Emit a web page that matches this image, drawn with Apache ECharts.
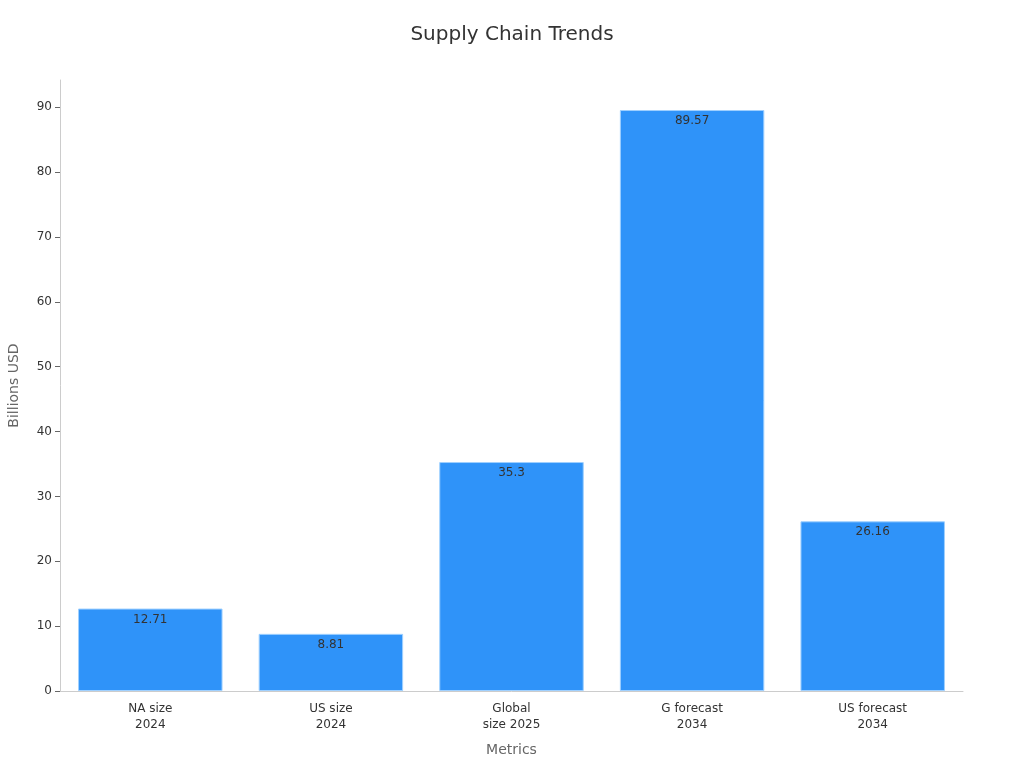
<!DOCTYPE html>
<html>
<head>
<meta charset="utf-8">
<script src="https://cdn.jsdelivr.net/npm/echarts@6/dist/echarts.min.js"></script>
<style>html,body{margin:0;padding:0;background:#fff}#chart{width:1024px;height:768px}</style>
</head>
<body>
<div id="chart"></div>
<script>
const categories = ['NA size\n2024', 'US size\n2024', 'Global\nsize 2025', 'G forecast\n2034', 'US forecast\n2034'];
const values = [12.71, 8.81, 35.3, 89.57, 26.16];
const yTicks = [0, 10, 20, 30, 40, 50, 60, 70, 80, 90];
const yMax = 94.2;

const chart = echarts.init(document.getElementById('chart'), null, {renderer: 'canvas'});
const font = 'DejaVu Sans';
chart.setOption({
  animation: false,
  textStyle: {fontFamily: font},
  title: {
    text: 'Supply Chain Trends', left: 'center', top: 20,
    textStyle: {fontFamily: font, fontSize: 20, fontWeight: 'normal', color: '#333'}
  },
  grid: {left: 60, right: 61, top: 80, bottom: 77, containLabel: false, outerBoundsMode: 'none'},
  xAxis: {
    type: 'category', data: categories,
    name: 'Metrics', nameLocation: 'middle', nameGap: 52,
    nameTextStyle: {fontFamily: font, fontSize: 14, color: '#666'},
    axisLine: {lineStyle: {color: '#ccc'}},
    axisTick: {alignWithLabel: true, lineStyle: {color: '#666'}},
    axisLabel: {fontFamily: font, fontSize: 12, color: '#333', lineHeight: 16, margin: 10}
  },
  yAxis: {
    type: 'value', min: 0, max: yMax,
    name: 'Billions USD', nameLocation: 'middle', nameGap: 39,
    nameTextStyle: {fontFamily: font, fontSize: 14, color: '#666'},
    splitLine: {show: false},
    axisLine: {show: true, lineStyle: {color: '#ccc'}},
    axisTick: {show: true, customValues: yTicks, lineStyle: {color: '#666'}},
    axisLabel: {customValues: yTicks, fontFamily: font, fontSize: 12, color: '#333', margin: 8}
  },
  series: [{
    type: 'bar', data: values, barWidth: '80%',
    itemStyle: {color: '#2F93F9', borderColor: '#9fd0ff', borderWidth: 1},
    label: {show: true, position: 'insideTop', fontFamily: font, fontSize: 12, color: '#333', distance: 5}
  }]
});
</script>
</body>
</html>
